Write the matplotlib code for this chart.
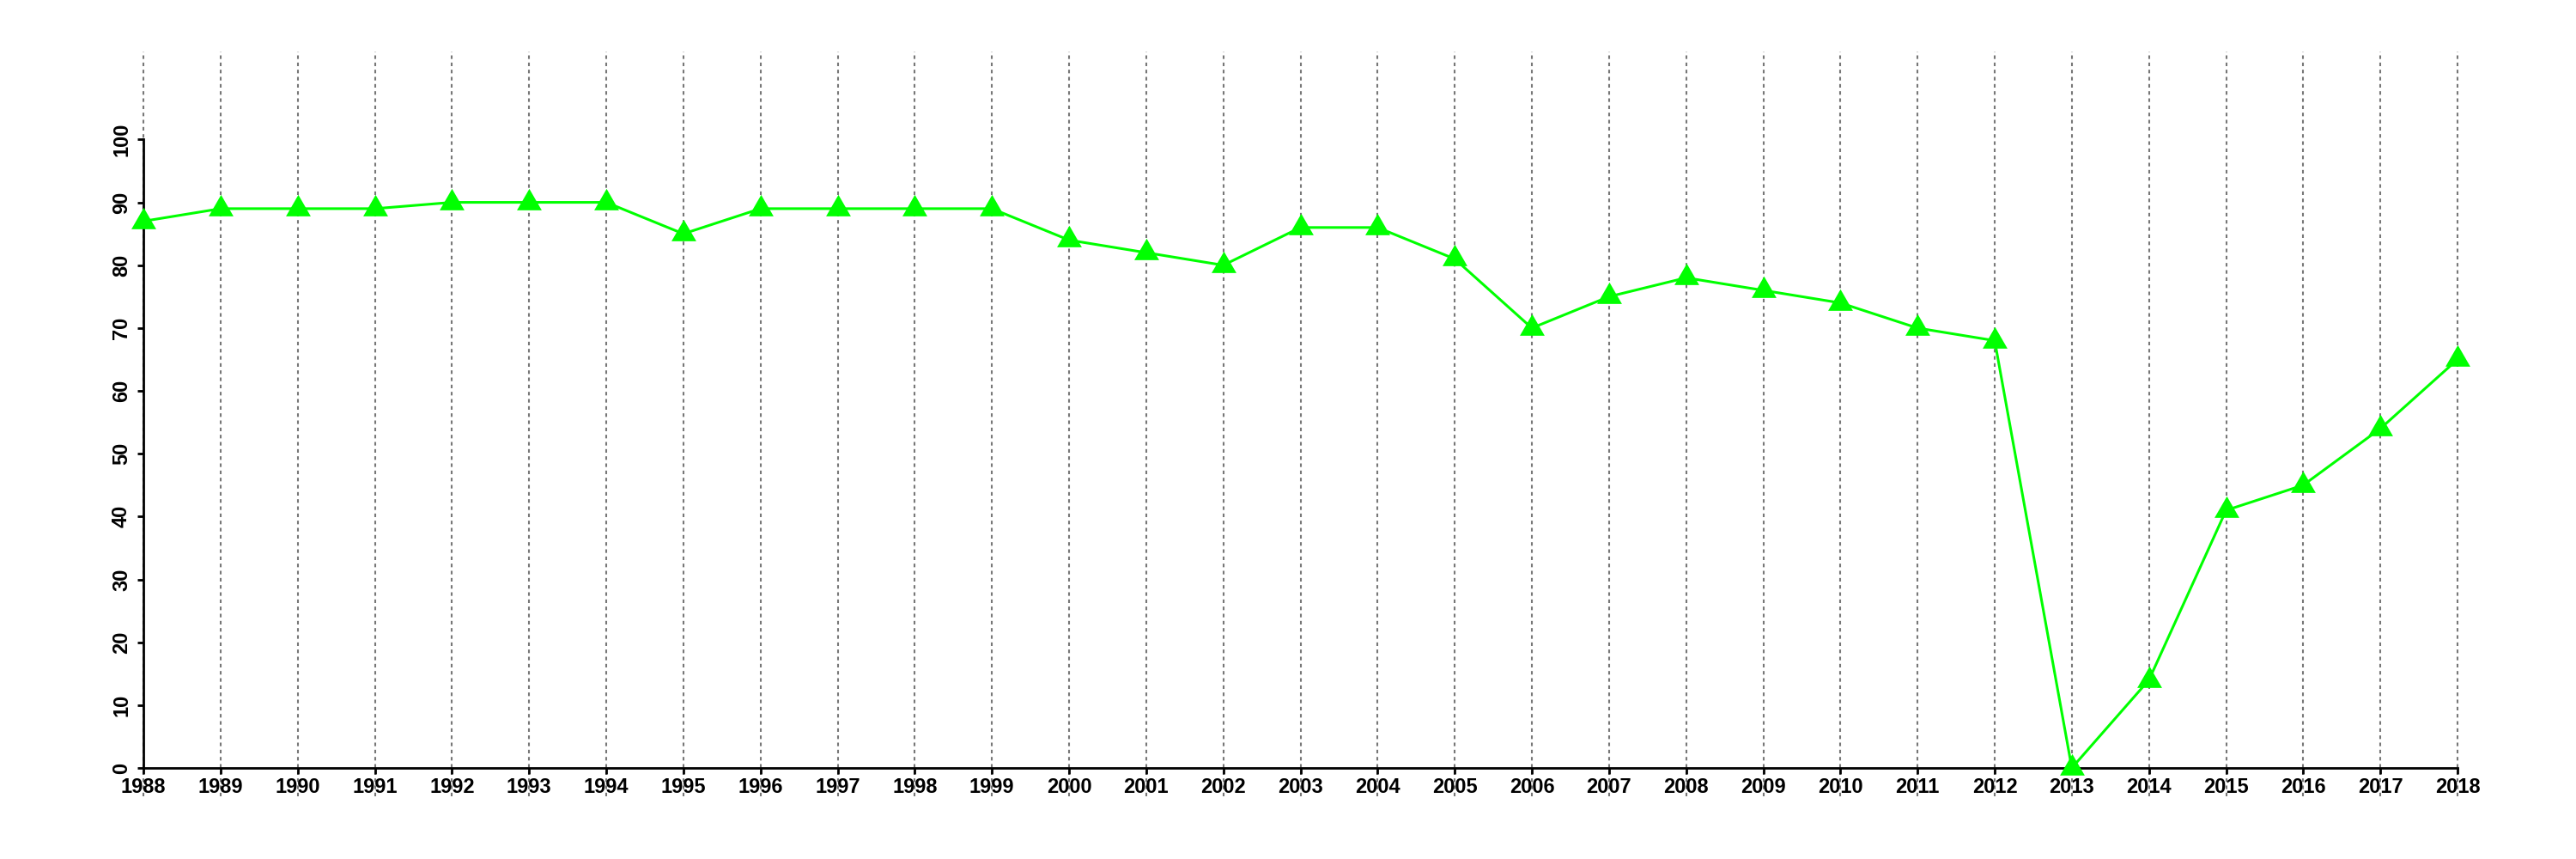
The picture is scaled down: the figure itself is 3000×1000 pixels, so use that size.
import matplotlib.pyplot as plt

years = list(range(1988, 2019))
values = [87, 89, 89, 89, 90, 90, 90, 85, 89, 89, 89, 89, 84, 82, 80, 86,
          86, 81, 70, 75, 78, 76, 74, 70, 68, 0, 14, 41, 45, 54, 65]
yticks = list(range(0, 101, 10))

plt.rcParams["font.family"] = ["Liberation Sans", "DejaVu Sans"]

fig = plt.figure(figsize=(30, 10), dpi=100)
ax = fig.add_axes([167 / 3000, 0.106, (2862 - 167) / 3000, 0.834])

ax.set_xlim(1988, 2018)
ax.set_ylim(0, 114)

# dotted vertical guides, running a bit under the axis like the original
ax.vlines(years, -4.5, 114, colors="#777777", linestyles=(0, (2, 2)),
          linewidth=1.5, clip_on=False, zorder=1)

ax.plot(years, values, "-", color="#00ff00", lw=2.2, zorder=3, clip_on=False)
ax.plot(years, values, linestyle="none", marker=(3, 0, 0), ms=24,
        color="#00ff00", markeredgewidth=0, zorder=4, clip_on=False)

ax.set_xticks(years)
ax.set_yticks(yticks)
for s in ("top", "right"):
    ax.spines[s].set_visible(False)
ax.spines["left"].set_bounds(0, 100)
ax.spines["bottom"].set_bounds(1988, 2018)
ax.spines["left"].set_linewidth(2)
ax.spines["bottom"].set_linewidth(2)

ax.tick_params(axis="both", length=5, width=2, labelsize=17)
ax.tick_params(axis="x", pad=3)
ax.tick_params(axis="y", labelrotation=90, pad=5)
for lab in ax.get_xticklabels() + ax.get_yticklabels():
    lab.set_fontweight("bold")
for lab in ax.get_yticklabels():
    lab.set_va("center")

fig.savefig("out.png", dpi=100)
